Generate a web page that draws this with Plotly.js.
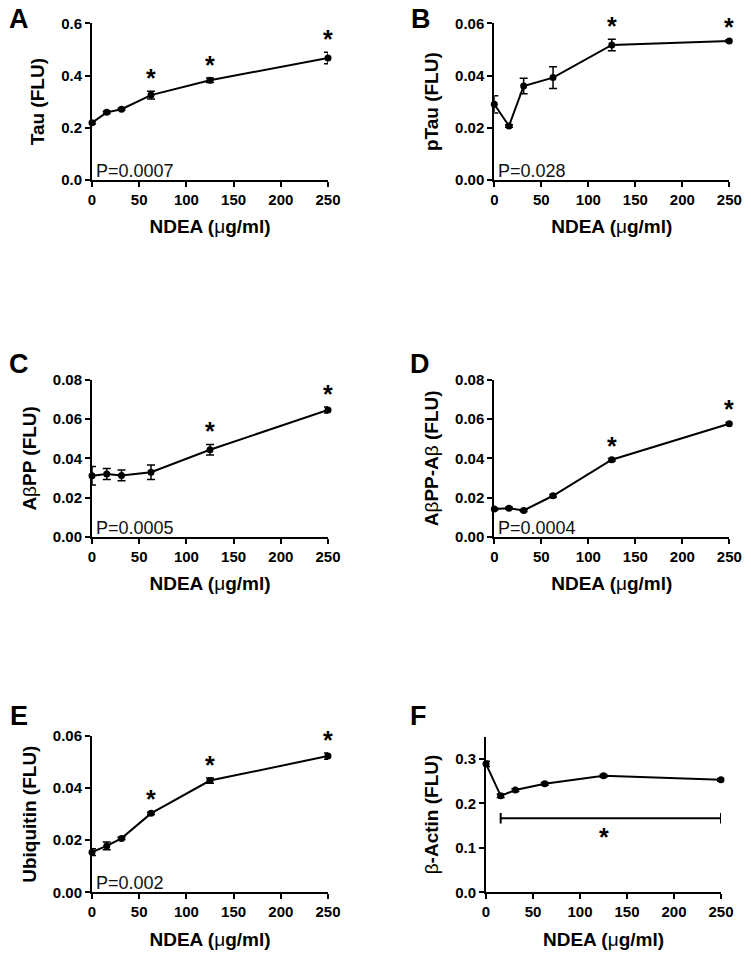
<!DOCTYPE html>
<html><head><meta charset="utf-8">
<script src="https://cdn.plot.ly/plotly-3.0.1.min.js"></script>
<style>body{margin:0;background:#fff}#chart{width:751px;height:958px}</style>
</head><body><div id="chart"></div>
<script>
// ---- data ----
const doses = [0, 15.625, 31.25, 62.5, 125, 250];
const xTicks = [0, 50, 100, 150, 200, 250];

const tau = [0.219, 0.259, 0.271, 0.325, 0.382, 0.467];
const tauErr = [0.005, 0.004, 0.004, 0.015, 0.009, 0.022];
const tauSig = [0, 0, 0, 1, 1, 1];

const pTau = [0.0290, 0.0207, 0.0360, 0.0392, 0.0517, 0.0532];
const pTauErr = [0.0033, 0.0005, 0.0030, 0.0042, 0.0022, 0.0005];
const pTauSig = [0, 0, 0, 0, 1, 1];

const abpp = [0.0311, 0.0320, 0.0313, 0.0329, 0.0444, 0.0647];
const abppErr = [0.0047, 0.0028, 0.0027, 0.0037, 0.0027, 0.0015];
const abppSig = [0, 0, 0, 0, 1, 1];

const abppAb = [0.0141, 0.0145, 0.0134, 0.0209, 0.0393, 0.0577];
const abppAbErr = [0.0006, 0.0005, 0.0005, 0.0006, 0.0006, 0.0006];
const abppAbSig = [0, 0, 0, 0, 1, 1];

const ubiq = [0.0154, 0.0178, 0.0207, 0.0303, 0.0429, 0.0523];
const ubiqErr = [0.0013, 0.0015, 0.0004, 0.0004, 0.0010, 0.0012];
const ubiqSig = [0, 0, 0, 1, 1, 1];

const actin = [0.289, 0.217, 0.230, 0.244, 0.262, 0.253];
const actinErr = [0.006, 0.004, 0.003, 0.003, 0.003, 0.003];
const actinBracket = [15.625, 250, 0.1665]; // x from, x to, level

const pValues = ['P=0.0007', 'P=0.028', 'P=0.0005', 'P=0.0004', 'P=0.002', ''];

// ---- layout ----
const W = 751, H = 958;
const FONT = 'Liberation Sans, Arial, Helvetica, sans-serif';
const nb = s => '<span style="font-weight:normal">' + s + '</span>';
const panels = [
  {L:'A', y:tau, e:tauErr, sig:tauSig, yt:'Tau (FLU)', range:[0,0.6], dtick:0.2, fmt:'.1f', box:[92,328,23.3,180], let:[19,19]},
  {L:'B', y:pTau, e:pTauErr, sig:pTauSig, yt:'pTau (FLU)', range:[0,0.06], dtick:0.02, fmt:'.2f', box:[494.3,729.3,23.3,180], let:[421,19]},
  {L:'C', y:abpp, e:abppErr, sig:abppSig, yt:'A'+nb('β')+'PP (FLU)', range:[0,0.08], dtick:0.02, fmt:'.2f', box:[92,328,380,536.7], let:[19,364]},
  {L:'D', y:abppAb, e:abppAbErr, sig:abppAbSig, yt:'A'+nb('β')+'PP-A'+nb('β')+' (FLU)', range:[0,0.08], dtick:0.02, fmt:'.2f', box:[494.3,729.3,380,536.7], let:[420,364]},
  {L:'E', y:ubiq, e:ubiqErr, sig:ubiqSig, yt:'Ubiquitin (FLU)', range:[0,0.06], dtick:0.02, fmt:'.2f', box:[92,328,736,892.3], let:[19,716]},
  {L:'F', y:actin, e:actinErr, sig:[0,0,0,0,0,0], yt:nb('β')+'-Actin (FLU)', range:[0,0.35], dtick:0.1, fmt:'.1f', box:[486,721,736.7,892.3], let:[418,716]}
];

const traces = [], annotations = [], shapes = [];
const layout = {
  width: W, height: H, margin:{l:0,r:0,t:0,b:0},
  paper_bgcolor:'#fff', plot_bgcolor:'#fff', showlegend:false,
  font:{family:FONT, color:'#000'}
};

panels.forEach((p, i) => {
  const n = i + 1;
  const xa = 'xaxis' + (n===1?'':n), ya = 'yaxis' + (n===1?'':n);
  const xr = 'x' + (n===1?'':n), yr = 'y' + (n===1?'':n);
  const [x0, x1, yTop, yBot] = p.box;
  layout[xa] = {
    domain:[x0/W, x1/W], anchor:yr, range:[0,250], tickvals:xTicks,
    showline:true, linewidth:2, linecolor:'#000', ticks:'outside', ticklen:5, tickwidth:2, tickcolor:'#000',
    showgrid:false, zeroline:false, fixedrange:true,
    tickfont:{family:FONT, size:15, weight:'bold'},
    title:{text:'NDEA ('+nb('μ')+'g/ml)', font:{family:FONT, size:19, weight:'bold'}, standoff:13}
  };
  layout[ya] = {
    domain:[1-yBot/H, 1-yTop/H], anchor:xr, range:p.range, dtick:p.dtick, tick0:0, tickformat:p.fmt,
    showline:true, linewidth:2, linecolor:'#000', ticks:'outside', ticklen:5, tickwidth:2, tickcolor:'#000',
    showgrid:false, zeroline:false, fixedrange:true,
    tickfont:{family:FONT, size:15, weight:'bold'},
    title:{text:p.yt, font:{family:FONT, size:19, weight:'bold'}, standoff:11}
  };
  traces.push({
    x:doses, y:p.y, xaxis:xr, yaxis:yr, type:'scatter', mode:'lines+markers',
    line:{color:'#000', width:2}, marker:{color:'#000', size:7},
    error_y:{type:'data', array:p.e, visible:true, color:'#000', thickness:1.5, width:4},
    cliponaxis:false, hoverinfo:'skip'
  });
  // significance stars
  p.sig.forEach((s, k) => {
    if (!s) return;
    annotations.push({xref:xr, yref:yr, x:doses[k], y:p.y[k]+p.e[k], yanchor:'bottom', yshift:-3,
      text:'<b>*</b>', showarrow:false, font:{family:FONT, size:25, color:'#000'}});
  });
  // p value
  if (pValues[i]) annotations.push({xref:xr+' domain', yref:yr+' domain', x:0, y:0, xanchor:'left', yanchor:'bottom',
    xshift:2, yshift:-3, text:pValues[i], showarrow:false, font:{family:FONT, size:18, color:'#111'}});
  // panel letter
  annotations.push({xref:'paper', yref:'paper', x:p.let[0]/W, y:1-p.let[1]/H, xanchor:'center', yanchor:'middle',
    text:'<b>'+p.L+'</b>', showarrow:false, font:{family:FONT, size:27, color:'#000'}});
});

// bracket in panel F
const [bx0, bx1, by] = actinBracket;
const capH = 0.012;
shapes.push({type:'line', xref:'x6', yref:'y6', x0:bx0, x1:bx1, y0:by, y1:by, line:{color:'#000', width:2}});
shapes.push({type:'line', xref:'x6', yref:'y6', x0:bx0, x1:bx0, y0:by-capH, y1:by+capH, line:{color:'#000', width:2}});
shapes.push({type:'line', xref:'x6', yref:'y6', x0:bx1, x1:bx1, y0:by-capH, y1:by+capH, line:{color:'#000', width:2}});
annotations.push({xref:'x6', yref:'y6', x:(doses[4]), y:by, yanchor:'top', yshift:-3,
  text:'<b>*</b>', showarrow:false, font:{family:FONT, size:25, color:'#000'}});

layout.annotations = annotations;
layout.shapes = shapes;
Plotly.newPlot('chart', traces, layout, {staticPlot:true, displayModeBar:false});
</script></body></html>
